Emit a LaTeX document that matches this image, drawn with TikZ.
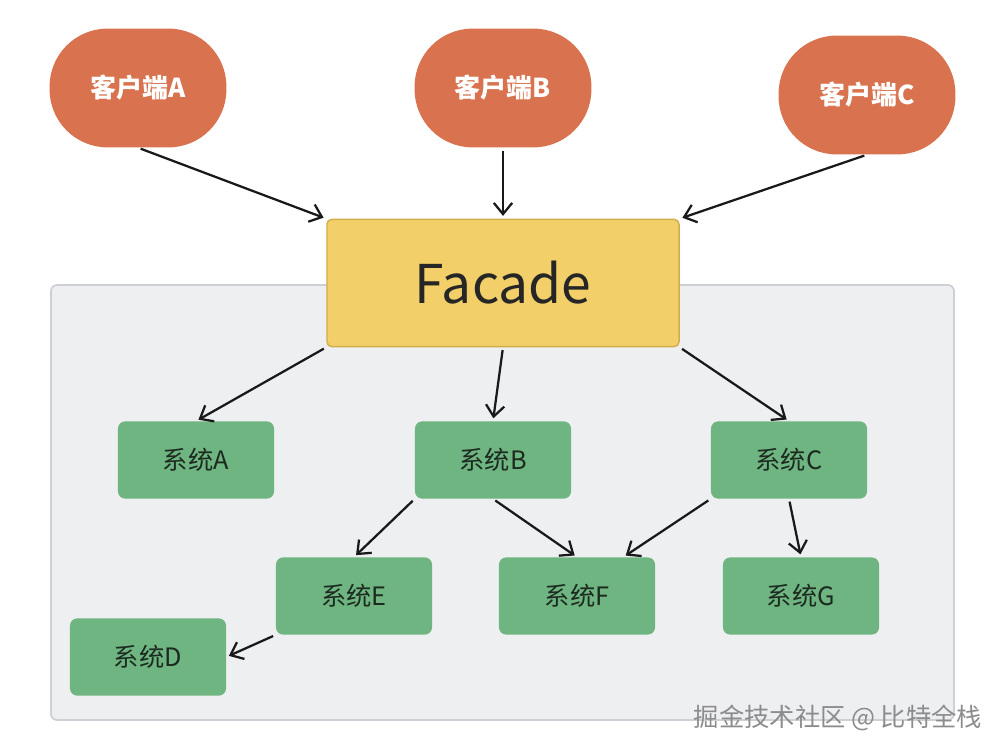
\documentclass[tikz,border=0pt]{standalone}
\usepackage{fontspec}
\setmainfont{Noto Sans CJK SC}
\usetikzlibrary{arrows.meta}

\definecolor{cliorange}{HTML}{D9734F}
\definecolor{facfill}{HTML}{F2CF69}
\definecolor{facline}{HTML}{D2AE48}
\definecolor{sysgreen}{HTML}{6FB582}
\definecolor{boxgray}{HTML}{EEEFF1}
\definecolor{boxline}{HTML}{CDD0D4}
\definecolor{systext}{HTML}{1C2A20}

\tikzset{
  client/.style={rectangle,rounded corners=1.45cm,fill=cliorange,text=white,
    minimum width=4.42cm,minimum height=2.97cm,font=\bfseries\fontsize{18.5}{22}\selectfont},
  facadebox/.style={rectangle,rounded corners=0.12cm,fill=facfill,draw=facline,line width=1pt,
    minimum width=8.8cm,minimum height=3.18cm,text=black!85,font=\fontsize{38}{44}\selectfont},
  sysbox/.style={rectangle,rounded corners=0.18cm,fill=sysgreen,text=systext,
    minimum width=3.9cm,minimum height=1.93cm,font=\fontsize{18}{21}\selectfont},
  arr/.style={-{Straight Barb[length=2.8mm,width=4.6mm]},line width=1.6pt,black!90,
    shorten <=2pt,shorten >=2pt}
}

\begin{document}
\begin{tikzpicture}[x=0.025cm,y=-0.025cm]
  \useasboundingbox (0,0) rectangle (1002,754);
  % grey frame behind the systems
  \draw[fill=boxgray,draw=boxline,line width=1.2pt,rounded corners=0.15cm] (51,285) rectangle (954,720);

  % clients
  \node[client] (cliA) at (138,88) {客户端A};
  \node[client] (cliB) at (503,88) {客户端B};
  \node[client] (cliC) at (867,95) {客户端C};

  \node[facadebox] (facade) at (503,283) {Facade};

  % subsystems
  \node[sysbox] (sysA) at (196,460) {系统A};
  \node[sysbox] (sysB) at (493,460) {系统B};
  \node[sysbox] (sysC) at (789,460) {系统C};
  \node[sysbox] (sysE) at (354,596) {系统E};
  \node[sysbox] (sysF) at (577,596) {系统F};
  \node[sysbox] (sysG) at (801,596) {系统G};
  \node[sysbox] (sysD) at (148,657) {系统D};

  \draw[arr] (cliA.south) -- (facade.north west);
  \draw[arr] (cliB.south) -- (facade.north);
  \draw[arr] (cliC.south) -- (facade.north east);

  \draw[arr] (facade.south west) -- (sysA.north);
  \draw[arr] (facade.south) -- (sysB.north);
  \draw[arr] (facade.south east) -- (sysC.north);

  \draw[arr] (sysB.south west) -- (sysE.north);
  \draw[arr] (sysB.south) -- (sysF.north);
  \draw[arr] (sysC.south west) -- (sysF.40);
  \draw[arr] (sysC.south) -- (sysG.north);
  \draw[arr] (sysE.south west) -- (sysD.east);

  \node[text=black!45,font=\fontsize{18}{21}\selectfont] (wmark) at (838,718) {掘金技术社区 @ 比特全栈};
\end{tikzpicture}
\end{document}
